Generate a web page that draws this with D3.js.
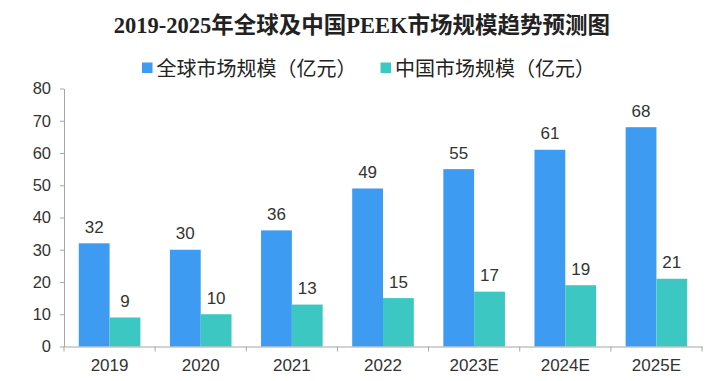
<!DOCTYPE html>
<html><head><meta charset="utf-8">
<script src="https://cdn.jsdelivr.net/npm/d3@7/dist/d3.min.js"></script>
<style>html,body{margin:0;padding:0;background:#fff;}</style>
</head><body>
<svg id="c" width="728" height="381"></svg>
<script>
const categories = ["2019","2020","2021","2022","2023E","2024E","2025E"];
const globalValues = [32,30,36,49,55,61,68];
const chinaValues = [9,10,13,15,17,19,21];
const seriesNames = ["全球市场规模（亿元）","中国市场规模（亿元）"];
const yTicks = [0,10,20,30,40,50,60,70,80];
const colors = ["#3d9bf1","#3cc7c2"];

const svg = d3.select("#c");
const L=64, R=702, T=88.5, B=346.5;
const x = d3.scaleBand().domain(categories).range([L,R]).paddingInner(0).paddingOuter(0);
const y = d3.scaleLinear().domain([0,80]).range([B,T]);
const bw = 30.8;
const sansFont = "'Liberation Sans', Arial, sans-serif";

// title
svg.append("text").attr("x",362).attr("y",33).attr("text-anchor","middle")
  .attr("font-family","'Liberation Serif','Noto Sans CJK SC',serif").attr("font-weight","bold")
  .attr("font-size",22.5).attr("fill","#222").text("2019-2025年全球及中国PEEK市场规模趋势预测图");

// legend
const legX=[142,380.5];
seriesNames.forEach((n,i)=>{
  svg.append("rect").attr("x",legX[i]).attr("y",62.5).attr("width",10.5).attr("height",10.5).attr("fill",colors[i]);
  svg.append("text").attr("x",legX[i]+14.5).attr("y",75.5).attr("font-family","'Noto Sans CJK SC',sans-serif")
    .attr("font-size",20).attr("fill","#222").text(n);
});

// bars
const series=[globalValues,chinaValues];
series.forEach((vals,si)=>{
  const g=svg.append("g");
  g.selectAll("rect").data(vals).enter().append("rect")
    .attr("x",(d,i)=>x(categories[i])+x.bandwidth()/2-bw+si*bw)
    .attr("y",d=>y(d)).attr("width",bw).attr("height",d=>B-y(d)).attr("fill",colors[si]);
  g.selectAll("text").data(vals).enter().append("text")
    .attr("x",(d,i)=>x(categories[i])+x.bandwidth()/2-bw/2+si*bw)
    .attr("y",d=>y(d)-10.5).attr("text-anchor","middle")
    .attr("font-family",sansFont).attr("font-size",17).attr("fill","#333").text(d=>d);
});

// y axis
const ya=svg.append("g").attr("transform",`translate(${L},0)`)
  .call(d3.axisLeft(y).tickValues(yTicks).tickSize(4).tickPadding(9).tickSizeOuter(0));
ya.select(".domain").attr("stroke","#a6a6a6");
ya.selectAll(".tick line").attr("stroke","#a6a6a6");
ya.selectAll("text").attr("font-family",sansFont).attr("font-size",16.5).attr("fill","#333");

// x axis
const xa=svg.append("g").attr("transform",`translate(0,${B})`)
  .call(d3.axisBottom(x).tickSize(0).tickPadding(12));
xa.select(".domain").attr("stroke","#a6a6a6");
xa.selectAll("text").attr("font-family",sansFont).attr("font-size",17).attr("fill","#333");
// boundary ticks
const bounds=categories.map(c=>x(c)).concat([R]);
xa.selectAll(".bt").data(bounds).enter().append("line").attr("class","bt")
  .attr("x1",d=>d).attr("x2",d=>d).attr("y1",0).attr("y2",5).attr("stroke","#a6a6a6");
</script>
</body></html>
